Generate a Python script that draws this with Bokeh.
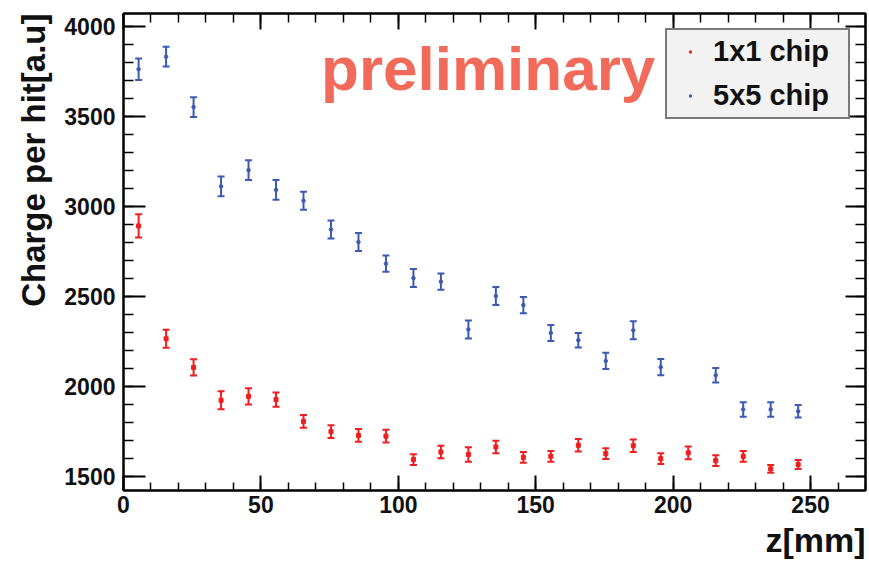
import numpy as np
from bokeh.plotting import figure
from bokeh.models import (ColumnDataSource, LinearAxis, SingleIntervalTicker, Range1d,
                          Label, Legend, LegendItem, Title)
from bokeh.embed import file_html
from bokeh.resources import INLINE

# ---- data ----
z_red = [5.5, 15.5, 25.5, 35.5, 45.5, 55.5, 65.5, 75.5, 85.5, 95.5, 105.5, 115.5, 125.5,
         135.5, 145.5, 155.5, 165.5, 175.5, 185.5, 195.5, 205.5, 215.5, 225.5, 235.5, 245.5]
q_red = [2890, 2263, 2104, 1921, 1943, 1925, 1804, 1747, 1726, 1722, 1592, 1634, 1620,
         1662, 1604, 1610, 1671, 1625, 1669, 1597, 1629, 1586, 1610, 1540, 1564]
e_red = [65, 50, 45, 50, 45, 40, 35, 35, 35, 35, 30, 35, 40,
         35, 30, 30, 35, 30, 35, 30, 35, 30, 30, 22, 25]

z_blue = [5.5, 15.5, 25.5, 35.5, 45.5, 55.5, 65.5, 75.5, 85.5, 95.5, 105.5, 115.5, 125.5,
          135.5, 145.5, 155.5, 165.5, 175.5, 185.5, 195.5, 215.5, 225.5, 235.5, 245.5]
q_blue = [3760, 3830, 3550, 3110, 3200, 3090, 3030, 2870, 2800, 2680, 2600, 2580, 2315,
          2500, 2450, 2295, 2255, 2140, 2310, 2105, 2060, 1870, 1870, 1860]
e_blue = [60, 55, 55, 55, 55, 55, 50, 50, 50, 45, 50, 45, 50,
          50, 45, 45, 40, 45, 50, 45, 40, 40, 40, 35]

series_labels = ["1x1 chip", "5x5 chip"]
x_title = "z[mm]"
y_title = "Charge per hit[a.u]"
watermark = "preliminary"

RED = "#f01e1e"
BLUE = "#3a5ab4"
FONT = "Liberation Sans"

X0, X1 = 0, 270
Y0, Y1 = 1420, 4070

p = figure(width=869, height=562, output_backend="svg", toolbar_location=None,
           x_range=Range1d(X0, X1), y_range=Range1d(Y0, Y1),
           x_axis_type=None, y_axis_type=None)
p.min_border_left = 123
p.min_border_right = 4
p.min_border_top = 13
p.min_border_bottom = 72
p.background_fill_color = "white"
p.border_fill_color = "white"
p.outline_line_color = "black"
p.outline_line_width = 2
p.xgrid.visible = False
p.ygrid.visible = False


def style_axis(ax, tick_in, minor_in, show_labels):
    ax.axis_line_color = "black"
    ax.axis_line_width = 2
    ax.major_tick_line_color = "black"
    ax.major_tick_line_width = 2
    ax.minor_tick_line_color = "black"
    ax.minor_tick_line_width = 1.5
    ax.major_tick_in = tick_in
    ax.major_tick_out = 0
    ax.minor_tick_in = minor_in
    ax.minor_tick_out = 0
    ax.major_label_text_font = FONT
    ax.major_label_text_font_style = "bold"
    if show_labels:
        ax.major_label_text_font_size = "23px"
        ax.major_label_text_color = "#111111"
    else:
        ax.major_label_text_font_size = "1px"
        ax.major_label_text_color = None
        ax.major_label_standoff = 0


xb = LinearAxis(ticker=SingleIntervalTicker(interval=50, num_minor_ticks=5))
style_axis(xb, 15, 8, True)
xb.major_label_standoff = 5
p.add_layout(xb, "below")

xt = LinearAxis(ticker=SingleIntervalTicker(interval=50, num_minor_ticks=5))
style_axis(xt, 16, 9, False)
p.add_layout(xt, "above")

yl = LinearAxis(ticker=SingleIntervalTicker(interval=500, num_minor_ticks=5))
style_axis(yl, 22, 10, True)
yl.major_label_standoff = 8
p.add_layout(yl, "left")

yr = LinearAxis(ticker=SingleIntervalTicker(interval=500, num_minor_ticks=5))
style_axis(yr, 20, 10, False)
p.add_layout(yr, "right")

# ---- data sources ----
src_r = ColumnDataSource(dict(x=z_red, y=q_red,
                              lo=list(np.array(q_red) - np.array(e_red)),
                              hi=list(np.array(q_red) + np.array(e_red))))
src_b = ColumnDataSource(dict(x=z_blue, y=q_blue,
                              lo=list(np.array(q_blue) - np.array(e_blue)),
                              hi=list(np.array(q_blue) + np.array(e_blue))))

for src, col in ((src_r, RED), (src_b, BLUE)):
    p.segment(x0="x", y0="lo", x1="x", y1="hi", source=src, line_color=col, line_width=2)
    p.scatter(x="x", y="lo", source=src, marker="dash", size=7, line_color=col, line_width=2)
    p.scatter(x="x", y="hi", source=src, marker="dash", size=7, line_color=col, line_width=2)

p.scatter(x="x", y="y", source=src_r, marker="square", size=4,
          fill_color=RED, line_color=RED)
p.scatter(x="x", y="y", source=src_b, marker="circle", size=3.5,
          fill_color=BLUE, line_color=BLUE)
# small dot markers (same points) used for the legend swatches
r_red = p.scatter(x="x", y="y", source=src_r, marker="dot", size=4, line_color=RED)
r_blue = p.scatter(x="x", y="y", source=src_b, marker="dot", size=3.5, line_color=BLUE)

legend = Legend(items=[LegendItem(label=series_labels[0], renderers=[r_red]),
                       LegendItem(label=series_labels[1], renderers=[r_blue])],
                location="top_right")
legend.margin = 15
legend.padding = 5
legend.spacing = 11
legend.glyph_width = 36
legend.glyph_height = 33
legend.label_height = 33
legend.label_width = 130
legend.label_standoff = 5
legend.label_text_font = FONT
legend.label_text_font_style = "bold"
legend.label_text_font_size = "29px"
legend.label_text_color = "#111111"
legend.background_fill_color = "#f2f2f2"
legend.background_fill_alpha = 1
legend.border_line_color = "black"
legend.border_line_width = 2
p.add_layout(legend, "center")

# ---- texts ----
p.add_layout(Label(x=132.7, y=3767, text=watermark, text_align="center",
                   text_baseline="middle", text_font=FONT, text_font_style="bold",
                   text_font_size="62px", text_color="#f26a5a"))

ytitle = Title(text=y_title, align="right", standoff=20, text_font=FONT,
               text_font_style="bold", text_font_size="33px", text_color="#111111")
p.add_layout(ytitle, "left")

xtitle = Title(text=x_title, align="right", standoff=7, text_font=FONT,
               text_font_style="bold", text_font_size="34px", text_color="#111111")
p.add_layout(xtitle, "below")

open("out.html", "w").write(file_html(p, INLINE))
